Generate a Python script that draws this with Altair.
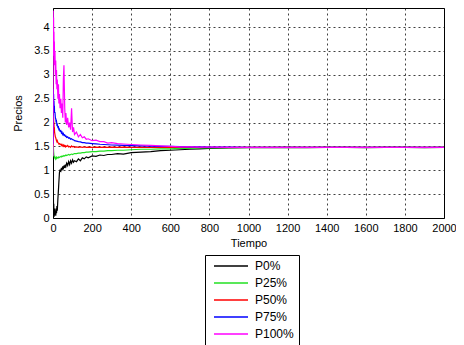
import altair as alt
import pandas as pd

tiempo = [0, 1, 2, 3, 4, 5, 6, 7, 8, 10, 12, 14, 16, 18, 20, 22, 25, 28, 30, 33, 36,
          40, 43, 46, 50, 53, 56, 60, 63, 66, 70, 75, 80, 85, 90, 95, 100, 105, 110,
          120, 130, 140, 150, 160, 170, 180, 200, 220, 240, 260, 280, 300, 330, 360,
          400, 450, 500, 550, 600, 650, 700, 750, 800, 900, 1000, 1100, 1200, 1300,
          1400, 1500, 1600, 1700, 1800, 1900, 2000]

p0 = [0.80, 0.10, 0.50, 0.05, 0.30, 0.02, 0.15, 0.05, 0.20, 0.08, 0.15, 0.05, 0.20, 0.10,
      0.25, 0.15, 0.40, 0.60, 0.75, 0.95, 1.00, 0.98, 1.05, 1.00, 1.08, 1.02, 1.10, 1.05,
      1.12, 1.08, 1.15, 1.10, 1.18, 1.12, 1.20, 1.15, 1.22, 1.17, 1.20, 1.18, 1.24, 1.20,
      1.26, 1.24, 1.28, 1.26, 1.30, 1.29, 1.32, 1.31, 1.33, 1.33, 1.35, 1.34, 1.37, 1.38,
      1.39, 1.41, 1.42, 1.43, 1.44, 1.45, 1.46, 1.47, 1.475, 1.475, 1.48, 1.475, 1.48,
      1.48, 1.475, 1.48, 1.48, 1.475, 1.48]

p25 = [1.45, 1.65, 1.50, 1.40, 1.35, 1.30, 1.28, 1.30, 1.25, 1.27, 1.24, 1.26, 1.25, 1.27,
       1.25, 1.26, 1.27, 1.26, 1.28, 1.27, 1.28, 1.29, 1.28, 1.30, 1.29, 1.30, 1.31, 1.30,
       1.31, 1.32, 1.31, 1.32, 1.33, 1.32, 1.33, 1.34, 1.33, 1.34, 1.35, 1.35, 1.36, 1.36,
       1.37, 1.37, 1.38, 1.38, 1.39, 1.39, 1.40, 1.40, 1.41, 1.41, 1.42, 1.42, 1.43, 1.44,
       1.44, 1.45, 1.45, 1.46, 1.46, 1.47, 1.47, 1.475, 1.48, 1.48, 1.48, 1.48, 1.48,
       1.48, 1.48, 1.48, 1.48, 1.48, 1.48]

p50 = [1.50, 2.15, 2.05, 2.10, 1.95, 2.00, 1.85, 1.90, 1.80, 1.75, 1.70, 1.68, 1.65, 1.62,
       1.60, 1.62, 1.58, 1.57, 1.55, 1.56, 1.54, 1.55, 1.52, 1.54, 1.51, 1.53, 1.50, 1.52,
       1.49, 1.51, 1.50, 1.52, 1.49, 1.50, 1.48, 1.51, 1.49, 1.50, 1.48, 1.49, 1.48, 1.49,
       1.48, 1.49, 1.48, 1.485, 1.48, 1.485, 1.48, 1.485, 1.48, 1.485, 1.48, 1.485, 1.48,
       1.485, 1.48, 1.485, 1.48, 1.48, 1.48, 1.48, 1.48, 1.48, 1.48, 1.48, 1.48, 1.48,
       1.48, 1.48, 1.48, 1.48, 1.48, 1.48, 1.48]

p75 = [1.55, 2.70, 2.50, 2.60, 2.40, 2.45, 2.30, 2.35, 2.20, 2.22, 2.10, 2.08, 2.00, 2.02,
       1.95, 1.96, 1.90, 1.91, 1.85, 1.86, 1.82, 1.83, 1.78, 1.80, 1.75, 1.77, 1.73, 1.74,
       1.71, 1.72, 1.69, 1.70, 1.67, 1.68, 1.65, 1.66, 1.64, 1.64, 1.62, 1.61, 1.60, 1.595,
       1.58, 1.578, 1.57, 1.568, 1.56, 1.552, 1.545, 1.54, 1.535, 1.53, 1.525, 1.52, 1.515,
       1.51, 1.505, 1.50, 1.50, 1.495, 1.49, 1.49, 1.485, 1.485, 1.48, 1.48, 1.48, 1.48,
       1.48, 1.48, 1.48, 1.48, 1.48, 1.48, 1.48]

p100 = [1.30, 4.35, 3.80, 4.20, 3.60, 3.90, 3.40, 3.70, 3.20, 3.50, 3.00, 3.30, 2.80, 3.10,
        2.70, 2.90, 2.50, 2.80, 2.40, 2.60, 2.30, 2.50, 2.20, 2.40, 2.10, 2.90, 3.20, 2.30,
        2.00, 2.20, 1.95, 2.10, 1.90, 2.00, 1.85, 2.30, 1.80, 1.90, 1.75, 1.80, 1.70, 1.75,
        1.68, 1.70, 1.65, 1.66, 1.62, 1.63, 1.60, 1.60, 1.57, 1.58, 1.56, 1.55, 1.54, 1.53,
        1.52, 1.51, 1.50, 1.49, 1.49, 1.485, 1.485, 1.48, 1.48, 1.48, 1.48, 1.48, 1.48,
        1.48, 1.48, 1.48, 1.48, 1.48, 1.48]

names = ["P0%", "P25%", "P50%", "P75%", "P100%"]
colors = ["#000000", "#22e022", "#ff0000", "#0000ff", "#ff00ff"]
y_ticks = [0, 0.5, 1, 1.5, 2, 2.5, 3, 3.5, 4]
x_ticks = [0, 200, 400, 600, 800, 1000, 1200, 1400, 1600, 1800, 2000]

rows = []
for i, (n, vals) in enumerate(zip(names, [p0, p25, p50, p75, p100])):
    for t, v in zip(tiempo, vals):
        rows.append({"Tiempo": t, "Precio": v, "Serie": n, "k": i})
df = pd.DataFrame(rows)

font = "Liberation Sans"

chart = alt.Chart(df).mark_line(strokeWidth=1.2, clip=True).encode(
    x=alt.X("Tiempo:Q", scale=alt.Scale(domain=[0, 2000], nice=False),
            axis=alt.Axis(values=x_ticks, format="d", title="Tiempo", labelFlush=False)),
    y=alt.Y("Precio:Q", scale=alt.Scale(domain=[0, 4.4], nice=False),
            axis=alt.Axis(values=y_ticks, format="~g", title="Precios", titlePadding=10,
                          labelFlush=False)),
    color=alt.Color("Serie:N", scale=alt.Scale(domain=names, range=colors),
                    legend=alt.Legend(title=None, orient="none", legendX=152, legendY=247,
                                      symbolType="M-1,0H16", symbolSize=16,
                                      symbolStrokeWidth=1.3, labelOffset=33,
                                      strokeColor="black", fillColor="white",
                                      padding=5, labelFontSize=12, labelFont=font,
                                      labelColor="black", rowPadding=5)),
    order=alt.Order("k:Q"),
).properties(
    width=391, height=210,
    padding={"left": 45, "top": 0, "right": 12, "bottom": 127},
    autosize="none",
).configure_view(
    stroke="black", strokeWidth=1
).configure_axis(
    grid=True, gridColor="black", gridDash=[2, 3], gridOpacity=0.75,
    ticks=False, domain=False,
    labelColor="black", labelFont=font, labelFontSize=11, labelPadding=4,
    titleColor="black", titleFont=font, titleFontSize=11, titleFontWeight="normal",
)

chart.save("out.html", embed_options={"renderer": "svg", "actions": False})
